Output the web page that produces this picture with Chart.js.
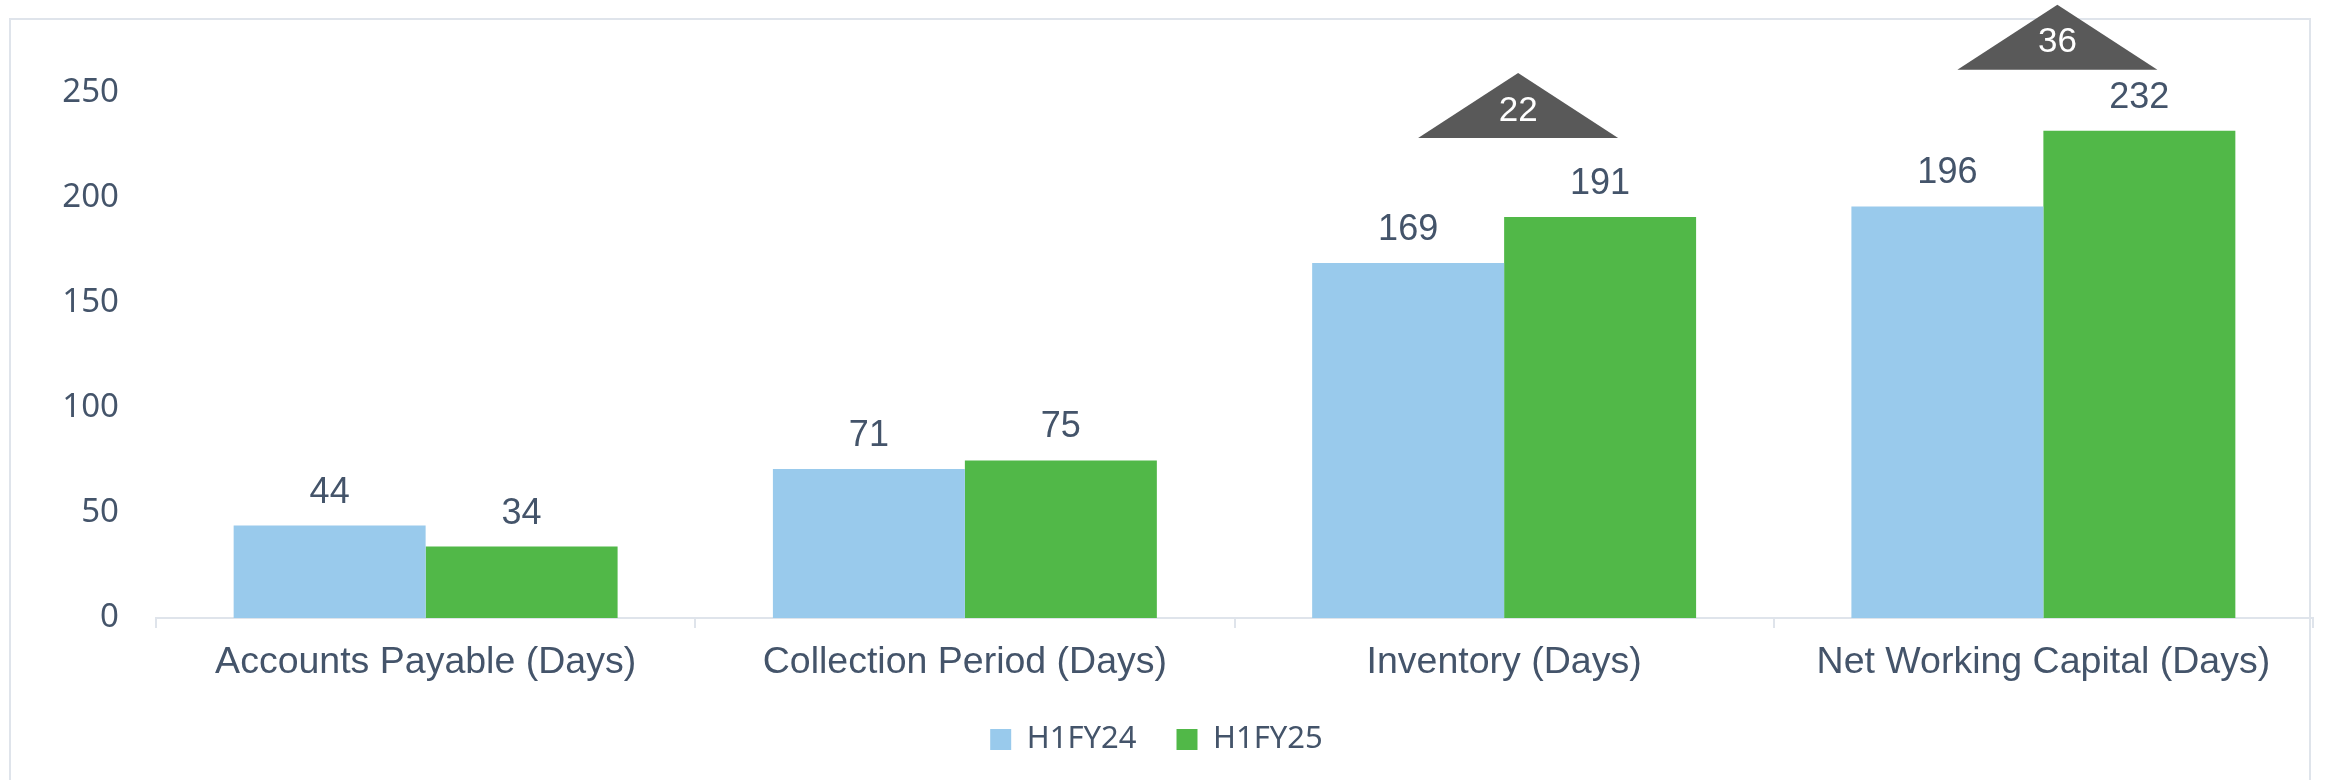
<!DOCTYPE html>
<html>
<head>
<meta charset="utf-8">
<script src="https://cdn.jsdelivr.net/npm/chart.js@4.4.1/dist/chart.umd.min.js"></script>
<style>
    html, body { margin: 0; padding: 0; background: #ffffff; }
    #wrap { position: relative; width: 2326px; height: 780px; overflow: hidden; }
    #frame {
        position: absolute; left: 9px; top: 18px; width: 2302px; height: 800px;
        border: 2px solid #dfe4eb; box-sizing: border-box;
    }
    #grafico { position: absolute; left: 0; top: 0; }
</style>
</head>
<body>
<div id="wrap">
    <div id="frame"></div>
    <canvas id="grafico" width="2326" height="780"></canvas>
</div>
<script>
// Dados
const categorias = ['Accounts Payable (Days)', 'Collection Period (Days)', 'Inventory (Days)', 'Net Working Capital (Days)'];
const valoresH1FY24 = [44, 71, 169, 196];
const valoresH1FY25 = [34, 75, 191, 232];
const variacoes = [null, null, 22, 36];
const ticksY = [0, 50, 100, 150, 200, 250];

const corTexto = '#44546a';
const corAzul = '#99caec';
const corVerde = '#51b848';
const corEixo = '#dfe4eb';
const corTriangulo = '#595959';

// Rótulos de valor acima das barras
const rotulosValor = {
    id: 'rotulosValor',
    afterDatasetsDraw(chart) {
        const ctx = chart.ctx;
        ctx.save();
        ctx.font = '36px "Liberation Sans", Arial, sans-serif';
        ctx.fillStyle = corTexto;
        ctx.textAlign = 'center';
        ctx.textBaseline = 'middle';
        chart.data.datasets.forEach((ds, i) => {
            chart.getDatasetMeta(i).data.forEach((barra, j) => {
                ctx.fillText(ds.data[j], barra.x, barra.y - 33);
            });
        });
        ctx.restore();
    }
};

// Triângulos com a variação
const triangulos = {
    id: 'triangulos',
    afterDraw(chart, args, opts) {
        const ctx = chart.ctx;
        const x = chart.scales.x;
        ctx.save();
        variacoes.forEach((v, j) => {
            if (v === null) return;
            const topoBarras = Math.min(...chart.data.datasets.map((ds, i) => chart.getDatasetMeta(i).data[j].y));
            const cx = x.getPixelForValue(j) + opts.deslocX;
            const base = topoBarras - opts.elevacao[j];
            ctx.beginPath();
            ctx.moveTo(cx - opts.meiaLargura, base);
            ctx.lineTo(cx + opts.meiaLargura, base);
            ctx.lineTo(cx, base - opts.altura);
            ctx.closePath();
            ctx.fillStyle = corTriangulo;
            ctx.fill();
            ctx.font = '35px "Liberation Sans", Arial, sans-serif';
            ctx.fillStyle = '#ffffff';
            ctx.textAlign = 'center';
            ctx.textBaseline = 'middle';
            ctx.fillText(String(v), cx, base - 27);
        });
        ctx.restore();
    }
};

const ctx = document.getElementById('grafico').getContext('2d');
new Chart(ctx, {
    type: 'bar',
    data: {
        labels: categorias,
        datasets: [
            { label: 'H1FY24', data: valoresH1FY24, backgroundColor: corAzul, borderWidth: 0 },
            { label: 'H1FY25', data: valoresH1FY25, backgroundColor: corVerde, borderWidth: 0 }
        ]
    },
    options: {
        responsive: false,
        animation: false,
        layout: { padding: { top: 93, right: 13, bottom: 15, left: 0 } },
        datasets: {
            bar: { barPercentage: 1, categoryPercentage: 0.712 }
        },
        scales: {
            x: {
                grid: {
                    offset: true,
                    drawOnChartArea: false,
                    drawTicks: true,
                    tickLength: 10,
                    color: corEixo,
                    lineWidth: 2
                },
                border: { display: true, color: corEixo, width: 2 },
                ticks: {
                    color: corTexto,
                    padding: 12,
                    maxRotation: 0,
                    font: { family: '"Liberation Sans", Arial, sans-serif', size: 37.5 }
                },
                afterFit(scale) { scale.height = 66; }
            },
            y: {
                min: 0,
                max: 250,
                afterBuildTicks(scale) { scale.ticks = ticksY.map(v => ({ value: v })); },
                grid: { display: false, drawTicks: false },
                border: { display: false },
                ticks: {
                    color: corTexto,
                    padding: 37,
                    font: { family: '"Noto Sans", "Open Sans", sans-serif', size: 33 }
                },
                afterFit(scale) { scale.width = 156; }
            }
        },
        plugins: {
            legend: {
                position: 'bottom',
                labels: {
                    color: corTexto,
                    boxWidth: 21,
                    boxHeight: 21,
                    padding: 40,
                    font: { family: '"Noto Sans", "Open Sans", sans-serif', size: 31 }
                }
            },
            tooltip: { enabled: false },
            triangulos: {
                deslocX: 14,
                meiaLargura: 100,
                altura: 65,
                elevacao: [0, 0, 79, 61]
            }
        }
    },
    plugins: [rotulosValor, triangulos]
});
</script>
</body>
</html>
